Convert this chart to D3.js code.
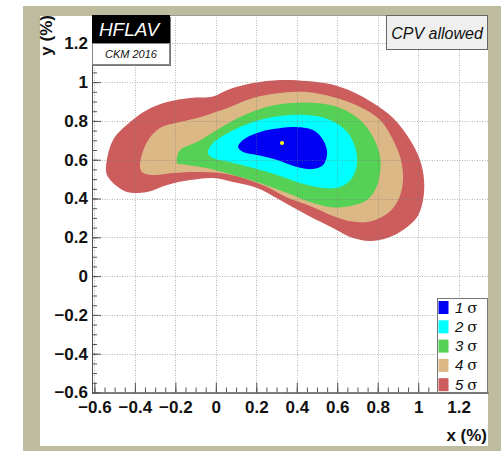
<!DOCTYPE html>
<html>
<head>
<meta charset="utf-8">
<script src="https://cdn.jsdelivr.net/npm/d3@7"></script>
<style>
  html, body { margin: 0; padding: 0; background: #ffffff; }
  svg { display: block; }
</style>
</head>
<body>
<svg id="chart" width="504" height="451"></svg>
<script>
// Confidence-level contours in the (x, y) plane, values in percent.
const contour5 = [[-0.543,0.562],[-0.508,0.702],[-0.424,0.794],[-0.340,0.856],[-0.241,0.897],[-0.128,0.918],
  [-0.029,0.923],[0.006,0.934],[0.070,0.964],[0.184,0.995],[0.317,1.011],[0.451,1.006],[0.564,0.990],
  [0.678,0.949],[0.777,0.892],[0.876,0.815],[0.960,0.702],[1.009,0.598],[1.029,0.495],[1.024,0.392],
  [0.995,0.305],[0.925,0.238],[0.846,0.196],[0.762,0.181],[0.663,0.202],[0.579,0.248],[0.451,0.315],
  [0.317,0.392],[0.204,0.454],[0.085,0.485],[-0.014,0.506],[-0.128,0.495],[-0.241,0.470],[-0.340,0.434],
  [-0.439,0.434],[-0.508,0.480],[-0.538,0.521]];
const contour4 = [[-0.375,0.573],[-0.340,0.691],[-0.276,0.763],[-0.177,0.794],[-0.093,0.815],[-0.014,0.841],
  [0.070,0.872],[0.184,0.918],[0.317,0.944],[0.451,0.949],[0.579,0.923],[0.713,0.872],[0.812,0.805],
  [0.876,0.702],[0.915,0.598],[0.925,0.495],[0.906,0.403],[0.851,0.325],[0.762,0.281],[0.673,0.281],
  [0.579,0.310],[0.466,0.361],[0.352,0.405],[0.253,0.459],[0.134,0.506],[0.021,0.531],[-0.093,0.537],
  [-0.212,0.531],[-0.310,0.521],[-0.365,0.537]];
const contour3 = [[-0.192,0.609],[-0.177,0.650],[-0.093,0.691],[0.021,0.763],[0.120,0.820],[0.233,0.867],
  [0.367,0.892],[0.500,0.892],[0.614,0.867],[0.713,0.805],[0.777,0.717],[0.812,0.614],[0.812,0.537],
  [0.792,0.454],[0.747,0.392],[0.663,0.361],[0.579,0.354],[0.466,0.382],[0.352,0.428],[0.218,0.480],
  [0.085,0.521],[-0.044,0.557],[-0.142,0.573],[-0.192,0.583]];
const contour2 = [[-0.039,0.635],[-0.014,0.686],[0.070,0.743],[0.184,0.794],[0.317,0.825],[0.451,0.830],
  [0.564,0.805],[0.649,0.743],[0.688,0.665],[0.698,0.583],[0.673,0.506],[0.614,0.459],[0.530,0.454],
  [0.416,0.480],[0.303,0.521],[0.184,0.557],[0.070,0.588],[-0.014,0.609]];
const contour1 = [[0.110,0.665],[0.134,0.702],[0.204,0.738],[0.283,0.758],[0.382,0.769],[0.480,0.753],
  [0.530,0.702],[0.550,0.635],[0.530,0.573],[0.480,0.552],[0.401,0.562],[0.303,0.598],[0.204,0.624],
  [0.134,0.640]];
const bestFit = [0.327, 0.686];

const sigmaLevels = ["1", "2", "3", "4", "5"];
const sigmaContours = [contour1, contour2, contour3, contour4, contour5];
const sigmaColors = ["#0000f5", "#00ffff", "#55d255", "#dcb886", "#cd5c5c"];

const xTicks = [-0.6, -0.4, -0.2, 0, 0.2, 0.4, 0.6, 0.8, 1, 1.2];
const xTickLabels = ["\u22120.6", "\u22120.4", "\u22120.2", "0", "0.2", "0.4", "0.6", "0.8", "1", "1.2"];
const yTicks = [-0.6, -0.4, -0.2, 0, 0.2, 0.4, 0.6, 0.8, 1, 1.2];
const yTickLabels = ["\u22120.6", "\u22120.4", "\u22120.2", "0", "0.2", "0.4", "0.6", "0.8", "1", "1.2"];

const svg = d3.select("#chart");
const W = 504, H = 451;

// Canvas frame
svg.append("rect").attr("x", 0).attr("y", 0).attr("width", W).attr("height", H).attr("fill", "#ffffff");
svg.append("rect").attr("x", 23).attr("y", 6).attr("width", 478).attr("height", H - 6).attr("fill", "#bdbc9f");
svg.append("rect").attr("x", 40).attr("y", 16).attr("width", 448).attr("height", 430).attr("fill", "#ffffff");

// Plot area
const plot = { left: 92, right: 488, top: 15, bottom: 392.5 };
const x = d3.scaleLinear().domain([-0.612, 1.345]).range([plot.left, plot.right]);
const y = d3.scaleLinear().domain([-0.6, 1.346]).range([plot.bottom, plot.top]);

svg.append("clipPath").attr("id", "plotclip")
  .append("rect").attr("x", plot.left).attr("y", plot.top)
  .attr("width", plot.right - plot.left).attr("height", plot.bottom - plot.top);

// Filled contours, outermost first
const area = d3.line().x(d => x(d[0])).y(d => y(d[1])).curve(d3.curveCatmullRomClosed.alpha(0.5));
const contourLayer = svg.append("g").attr("clip-path", "url(#plotclip)");
for (let i = sigmaContours.length - 1; i >= 0; i--) {
  contourLayer.append("path").attr("d", area(sigmaContours[i])).attr("fill", sigmaColors[i]);
}
contourLayer.append("circle").attr("cx", x(bestFit[0])).attr("cy", y(bestFit[1])).attr("r", 2)
  .attr("fill", "#ffff00");

// Dotted grid drawn over the contours
const grid = svg.append("g").attr("stroke", "#7a7a7a").attr("stroke-width", 1)
  .attr("stroke-dasharray", "1,1.5").attr("opacity", 0.55);
xTicks.forEach(t => grid.append("line").attr("x1", Math.round(x(t)) + 0.5).attr("x2", Math.round(x(t)) + 0.5)
  .attr("y1", plot.top).attr("y2", plot.bottom));
yTicks.forEach(t => grid.append("line").attr("y1", Math.round(y(t)) + 0.5).attr("y2", Math.round(y(t)) + 0.5)
  .attr("x1", plot.left).attr("x2", plot.right));

// Plot border (top edge)
svg.append("line").attr("x1", plot.left).attr("x2", plot.right).attr("y1", plot.top + 0.5).attr("y2", plot.top + 0.5)
  .attr("stroke", "#9a9a9a");

// Minor ticks every 0.05
const minorX = d3.range(-0.6, 1.34, 0.05).map(v => +v.toFixed(2));
const minorY = d3.range(-0.6, 1.34, 0.05).map(v => +v.toFixed(2));

const labelFont = "'Liberation Sans', Arial, Helvetica, sans-serif";

const xMinor = svg.append("g").attr("transform", `translate(0,${plot.bottom})`)
  .call(d3.axisBottom(x).tickValues(minorX).tickSize(-5).tickSizeOuter(0).tickFormat(""));
const xAxis = svg.append("g").attr("transform", `translate(0,${plot.bottom})`)
  .call(d3.axisBottom(x).tickValues(xTicks).tickSize(-10).tickSizeOuter(0).tickPadding(8)
    .tickFormat((d, i) => xTickLabels[i]));
const yMinor = svg.append("g").attr("transform", `translate(${plot.left},0)`)
  .call(d3.axisLeft(y).tickValues(minorY).tickSize(-5).tickSizeOuter(0).tickFormat(""));
const yAxis = svg.append("g").attr("transform", `translate(${plot.left},0)`)
  .call(d3.axisLeft(y).tickValues(yTicks).tickSize(-9).tickSizeOuter(0).tickPadding(4)
    .tickFormat((d, i) => yTickLabels[i]));

[xMinor, xAxis, yMinor, yAxis].forEach(g => {
  g.selectAll("line").attr("stroke", "#555");
  g.select(".domain").attr("stroke", "#555");
});
xAxis.selectAll("text").attr("font-family", labelFont).attr("font-weight", "bold").attr("font-size", 17)
  .attr("fill", "#111");
yAxis.selectAll("text").attr("font-family", labelFont).attr("font-weight", "bold").attr("font-size", 17)
  .attr("fill", "#111");

// Axis titles
svg.append("text").attr("x", 487).attr("y", 441).attr("text-anchor", "end")
  .attr("font-family", labelFont).attr("font-weight", "bold").attr("font-size", 17).attr("fill", "#111")
  .text("x (%)");
svg.append("text").attr("transform", "translate(52,15) rotate(-90)").attr("text-anchor", "end")
  .attr("font-family", labelFont).attr("font-weight", "bold").attr("font-size", 17).attr("fill", "#111")
  .text("y (%)");

// HFLAV logo
svg.append("rect").attr("x", 93).attr("y", 17).attr("width", 78).attr("height", 49).attr("fill", "#777");
svg.append("rect").attr("x", 92).attr("y", 15).attr("width", 78).attr("height", 28).attr("fill", "#000");
svg.append("rect").attr("x", 92.5).attr("y", 43.5).attr("width", 77).attr("height", 21).attr("fill", "#fff")
  .attr("stroke", "#888");
svg.append("text").attr("x", 129).attr("y", 36).attr("text-anchor", "middle")
  .attr("font-family", labelFont).attr("font-style", "italic").attr("font-size", 19).attr("fill", "#fff")
  .text("HFLAV");
svg.append("text").attr("x", 131).attr("y", 58).attr("text-anchor", "middle")
  .attr("font-family", labelFont).attr("font-style", "italic").attr("font-size", 11).attr("fill", "#111")
  .text("CKM 2016");

// Scenario label
svg.append("rect").attr("x", 386.5).attr("y", 15.5).attr("width", 101).attr("height", 34)
  .attr("fill", "#efefef").attr("stroke", "#666");
svg.append("text").attr("x", 437).attr("y", 39).attr("text-anchor", "middle")
  .attr("font-family", labelFont).attr("font-style", "italic").attr("font-size", 16).attr("fill", "#111")
  .text("CPV allowed");

// Legend
const legend = svg.append("g");
legend.append("rect").attr("x", 437.5).attr("y", 298.5).attr("width", 50).attr("height", 94)
  .attr("fill", "#fff").attr("stroke", "#777");
sigmaLevels.forEach((lvl, i) => {
  const top = 301 + i * 19.3;
  legend.append("rect").attr("x", 438.5).attr("y", top).attr("width", 10).attr("height", 13)
    .attr("fill", sigmaColors[i]);
  const t = legend.append("text").attr("x", 455).attr("y", top + 11.5)
    .attr("font-family", labelFont).attr("font-size", 15).attr("fill", "#111");
  t.append("tspan").attr("font-style", "italic").text(lvl);
  t.append("tspan").attr("dx", 4).attr("font-family", "'DejaVu Serif', 'Liberation Serif', serif")
    .attr("font-size", 15).text("\u03c3");
});
</script>
</body>
</html>
